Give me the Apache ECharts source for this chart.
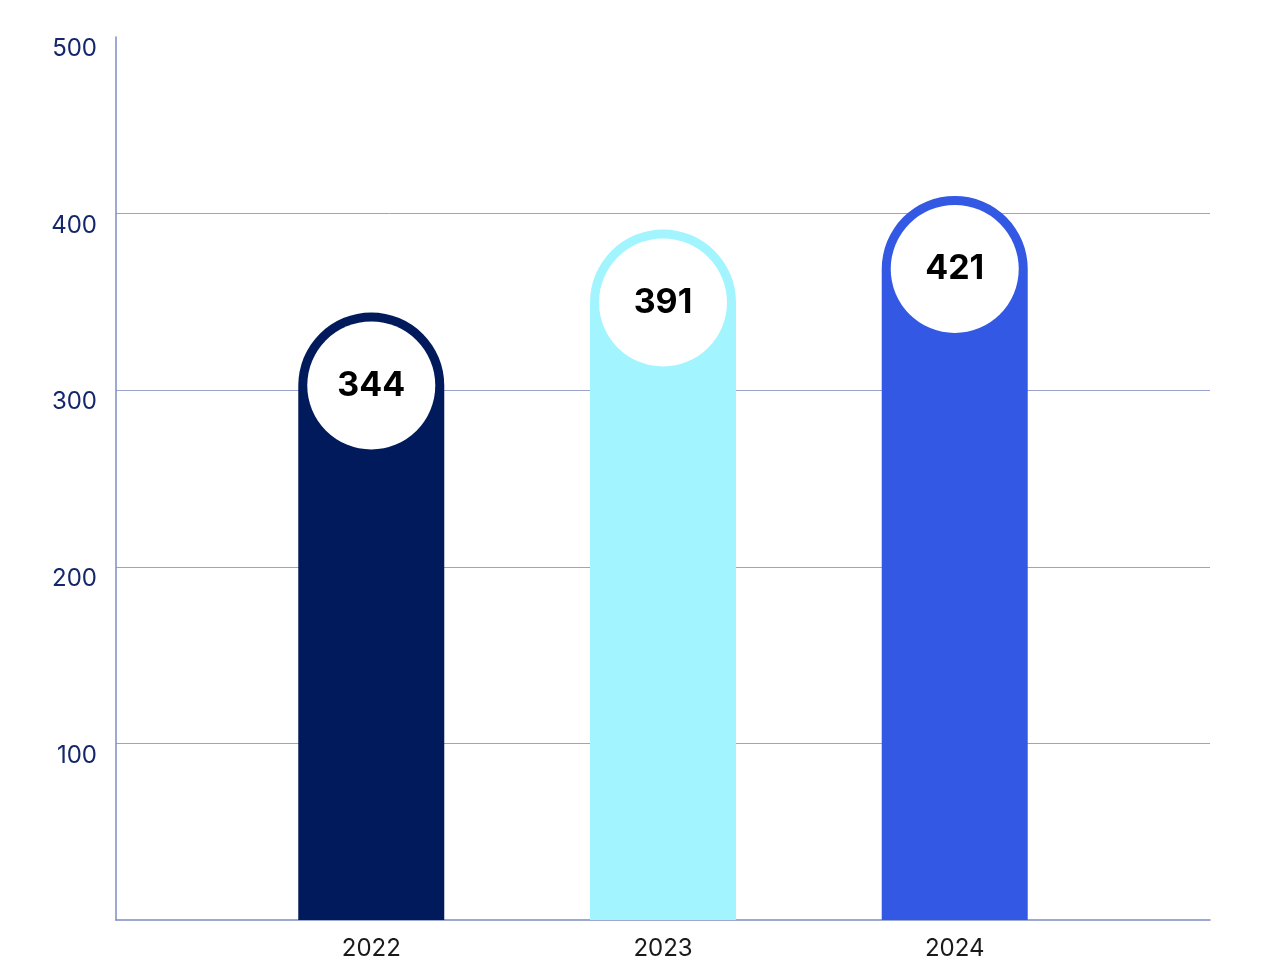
<!DOCTYPE html>
<html>
<head>
<meta charset="utf-8">
<title>Chart</title>
<script src="https://cdn.jsdelivr.net/npm/echarts@6/dist/echarts.min.js"></script>
<style>
  html, body { margin: 0; padding: 0; background: #fff; }
  #chart { width: 1280px; height: 971px; }
</style>
</head>
<body>
<div id="chart"></div>
<script>
// data
const years = [2022, 2023, 2024];
// bar heights as drawn (the 2024 bar is drawn lower than its printed value)
const barHeights = [344, 391, 410];
// numbers printed inside the circles
const valueLabels = ['344', '391', '421'];
const barColors = ['#001A5C', '#A2F4FE', '#3358E3'];
const yTicks = [0, 100, 200, 300, 400, 500];

const gridColor = '#9AA3CB';

let chart = echarts.init(document.getElementById('chart'));

chart.setOption({
  animation: false,
  grid: { left: 116, right: 70, top: 37, bottom: 51 },
  xAxis: {
    type: 'value',
    min: 2021.125,
    max: 2024.875,
    splitLine: { show: false },
    axisTick: { show: false },
    axisLine: { show: true, lineStyle: { color: '#7E8CC2', width: 1.5 } },
    axisLabel: {
      customValues: years,
      formatter: v => String(v),
      margin: 17,
      fontFamily: 'Inter',
      fontSize: 24,
      color: '#1A1A1A'
    }
  },
  yAxis: {
    type: 'value',
    min: yTicks[0],
    max: yTicks[yTicks.length - 1],
    interval: 100,
    axisLine: { show: true, lineStyle: { color: '#7E8CC2', width: 1.5 } },
    axisTick: { show: false },
    splitLine: {
      show: true,
      // no line at 0 (x axis) and none at the top tick
      lineStyle: { color: ['transparent', gridColor, gridColor, gridColor, gridColor, 'transparent'], width: 1 }
    },
    axisLabel: {
      showMinLabel: false,
      margin: 19,
      verticalAlign: 'top',
      fontFamily: 'Inter',
      fontSize: 24,
      color: '#14276A'
    }
  },
  series: [{
    type: 'bar',
    barWidth: 146,
    data: years.map((y, i) => ({
      value: [y, barHeights[i]],
      itemStyle: { color: barColors[i] }
    })),
    itemStyle: { borderRadius: [73, 73, 0, 0] },
    label: {
      show: true,
      position: 'insideTop',
      distance: 9,
      formatter: p => valueLabels[p.dataIndex],
      width: 128,
      height: 128,
      lineHeight: 128,
      backgroundColor: '#fff',
      borderRadius: 64,
      fontFamily: 'Inter',
      fontSize: 34,
      fontWeight: 700,
      color: '#000'
    }
  }]
});
</script>
</body>
</html>
